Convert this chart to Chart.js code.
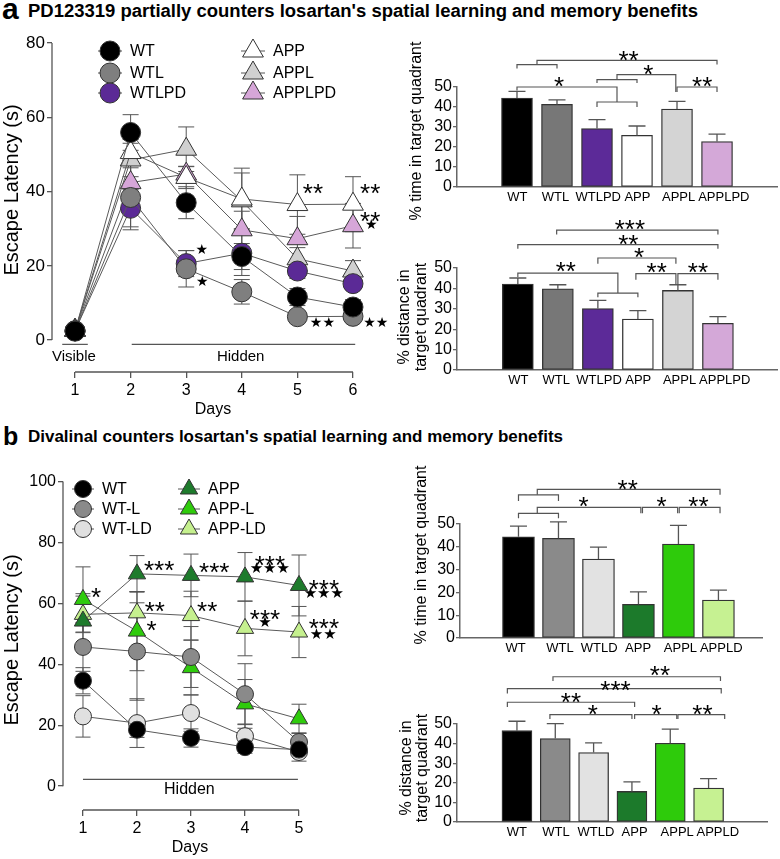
<!DOCTYPE html>
<html><head><meta charset="utf-8">
<script src="https://cdn.jsdelivr.net/npm/chart.js@4.4.1/dist/chart.umd.min.js"></script>
<style>
html,body{margin:0;padding:0;background:#fff}
body{width:780px;height:859px;position:relative;overflow:hidden;font-family:"Liberation Sans",Arial,sans-serif}
canvas{position:absolute}
.lt{position:absolute;font-weight:bold;line-height:1;color:#000}
.tt{position:absolute;font-weight:bold;line-height:1;color:#000;white-space:nowrap;display:inline-block;transform-origin:0 0}
</style></head><body>
<div class="lt" style="left:2px;top:-6px;font-size:30px">a</div>
<div class="tt" data-w="670" style="left:28px;top:2px;font-size:18px">PD123319 partially counters losartan's spatial learning and memory benefits</div>
<div class="lt" style="left:3px;top:424px;font-size:25px">b</div>
<div class="tt" data-w="535" style="left:28px;top:429px;font-size:16px">Divalinal counters losartan's spatial learning and memory benefits</div>
<script>
// ---------------- DATA ----------------
const daysA = [1, 2, 3, 4, 5, 6];
const groupsA = ['WT', 'WTL', 'WTLPD', 'APP', 'APPL', 'APPLPD'];
const latA_WT = [2.4, 55.9, 37.0, 22.5, 11.6, 8.9];
const latA_WT_err = [0.8, 4.8, 4.3, 3.5, 2.3, 2.0];
const latA_WTL = [2.5, 38.4, 19.2, 13.0, 6.3, 6.4];
const latA_WTL_err = [0.8, 8.7, 4.9, 3.3, 1.2, 1.3];
const latA_WTLPD = [2.5, 35.5, 20.6, 23.4, 18.6, 15.2];
const latA_WTLPD_err = [0.8, 5.0, 3.5, 6.0, 2.0, 1.5];
const latA_APP = [2.6, 50.5, 43.8, 38.0, 36.5, 36.6];
const latA_APP_err = [0.8, 3.5, 3.0, 8.3, 8.0, 7.4];
const latA_APPL = [2.6, 48.5, 51.4, 37.5, 21.9, 18.6];
const latA_APPL_err = [0.8, 4.5, 6.0, 7.5, 3.0, 2.8];
const latA_APPLPD = [2.7, 42.4, 44.7, 29.7, 27.3, 30.8];
const latA_APPLPD_err = [0.8, 4.0, 2.0, 5.0, 6.0, 6.0];
const yTicksA = [0, 20, 40, 60, 80];

const timeA = [44.5, 41.3, 29.2, 25.8, 39.0, 22.7];
const timeA_err = [3.3, 2.3, 4.5, 4.7, 3.8, 3.7];
const distA = [42.1, 39.8, 30.1, 25.0, 39.0, 22.9];
const distA_err = [3.0, 2.0, 4.0, 4.1, 2.8, 3.3];

const daysB = [1, 2, 3, 4, 5];
const groupsB = ['WT', 'WTL', 'WTLD', 'APP', 'APPL', 'APPLD'];
const legendB = ['WT', 'WT-L', 'WT-LD', 'APP', 'APP-L', 'APP-LD'];
const latB_WT = [34.6, 18.5, 15.8, 12.8, 12.0];
const latB_WT_err = [4.3, 2.5, 3.0, 2.0, 2.0];
const latB_WTL = [45.7, 44.2, 42.4, 30.2, 14.5];
const latB_WTL_err = [8.0, 16.0, 10.0, 10.0, 3.0];
const latB_WTLD = [22.9, 20.7, 24.0, 16.4, 11.2];
const latB_WTLD_err = [6.8, 8.0, 6.0, 4.0, 3.0];
const latB_APP = [54.2, 69.7, 69.2, 68.7, 65.9];
const latB_APP_err = [9.0, 6.0, 7.0, 8.0, 10.0];
const latB_APPL = [61.3, 50.9, 38.9, 27.0, 22.1];
const latB_APPL_err = [10.7, 13.0, 9.0, 8.0, 4.8];
const latB_APPLD = [56.4, 56.9, 56.0, 51.8, 50.6];
const latB_APPLD_err = [6.0, 7.0, 8.0, 9.0, 8.4];
const yTicksB = [0, 20, 40, 60, 80, 100];

const timeB = [44.4, 43.7, 34.6, 14.8, 41.2, 16.6];
const timeB_err = [4.7, 7.2, 5.3, 5.4, 8.2, 4.4];
const distB = [46.6, 42.6, 35.4, 15.6, 40.2, 17.3];
const distB_err = [4.8, 7.6, 5.0, 4.9, 7.2, 4.8];

// ---------------- STYLE ----------------
const FONT = '"Liberation Sans", Arial, sans-serif';
Chart.defaults.font.family = FONT;
Chart.defaults.color = '#000';
Chart.defaults.animation = false;
const colA = ['#000000', '#7f7f7f', '#5b2a96', '#ffffff', '#d0d0d0', '#d6a6d8'];
const barColA = ['#000000', '#777777', '#5c2a98', '#ffffff', '#d4d4d4', '#d4a8d8'];
const colB = ['#000000', '#8a8a8a', '#e0e0e0', '#1e7b2c', '#2fcb0c', '#c5f08e'];
const barColB = ['#000000', '#8a8a8a', '#e2e2e2', '#1c7a2b', '#2ecb0b', '#c6f192'];

// ---------------- PLUGIN ----------------
const ANN = {};
function drawMarker(ctx, style, x, y, r, fill, stroke) {
  ctx.beginPath();
  if (style === 'triangle') {
    let a = 0;
    for (let k = 0; k < 3; k++) {
      const px = x + Math.sin(a) * r, py = y - Math.cos(a) * r;
      if (k) ctx.lineTo(px, py); else ctx.moveTo(px, py);
      a += 2 * Math.PI / 3;
    }
    ctx.closePath();
  } else ctx.arc(x, y, r, 0, Math.PI * 2);
  ctx.fillStyle = fill; ctx.fill();
  ctx.strokeStyle = stroke; ctx.lineWidth = 1; ctx.stroke();
}
function drawErr(chart, a) {
  const ctx = chart.ctx, ys = chart.scales.y;
  ctx.save(); ctx.strokeStyle = a.errColor; ctx.lineWidth = a.errWidth;
  chart.data.datasets.forEach((ds, di) => {
    if (!ds.err) return;
    const meta = chart.getDatasetMeta(di);
    meta.data.forEach((el, i) => {
      const v = ds.data[i].y, e = ds.err[i], x = el.x;
      const t = ys.getPixelForValue(v + e);
      const b = ys.getPixelForValue(a.errMode === 'both' ? v - e : v);
      ctx.beginPath(); ctx.moveTo(x, t); ctx.lineTo(x, b);
      ctx.moveTo(x - a.cap, t); ctx.lineTo(x + a.cap, t);
      if (a.errMode === 'both') { ctx.moveTo(x - a.cap, b); ctx.lineTo(x + a.cap, b); }
      ctx.stroke();
    });
  });
  ctx.restore();
}
const extras = {
  id: 'extras',
  beforeDatasetsDraw(chart) { const a = ANN[chart.canvas.id]; if (a && a.errMode === 'both') drawErr(chart, a); },
  afterDatasetsDraw(chart) { const a = ANN[chart.canvas.id]; if (a && a.errMode === 'up') drawErr(chart, a); },
  afterDraw(chart) {
    const a = ANN[chart.canvas.id]; if (!a) return;
    const ctx = chart.ctx, xs = chart.scales.x, ys = chart.scales.y, ca = chart.chartArea;
    const X = v => xs.getPixelForValue(v), Y = v => ys.getPixelForValue(v);
    ctx.save();
    ctx.strokeStyle = '#555'; ctx.lineWidth = 1.3;
    if (a.yAxis) { ctx.beginPath(); ctx.moveTo(ca.left, Y(a.yAxis[0])); ctx.lineTo(ca.left, Y(a.yAxis[1])); ctx.stroke(); }
    if (a.xAxis) { ctx.beginPath(); ctx.moveTo(X(a.xAxis[0]), ca.bottom); ctx.lineTo(X(a.xAxis[1]), ca.bottom); ctx.stroke(); }
    ctx.strokeStyle = '#555'; ctx.lineWidth = 1.2;
    (a.paths || []).forEach(p => {
      ctx.beginPath();
      p.forEach((q, k) => { if (k) ctx.lineTo(X(q[0]), Y(q[1])); else ctx.moveTo(X(q[0]), Y(q[1])); });
      ctx.stroke();
    });
    ctx.fillStyle = '#000'; ctx.textAlign = 'center';
    (a.texts || []).forEach(t => {
      const f = a.fonts[t.k];
      ctx.font = f.font; ctx.textBaseline = f.base; ctx.fillStyle = f.color || '#000';
      ctx.fillText(t.t, X(t.x), Y(t.y) + f.dy);
    });
    if (a.legend) {
      const L = a.legend;
      L.items.forEach(it => {
        const ds = chart.data.datasets[it.ds];
        const lx = it.x - a.box.l, ly = it.y - a.box.t;
        ctx.strokeStyle = '#555'; ctx.lineWidth = 1;
        ctx.beginPath(); ctx.moveTo(lx - L.seg, ly); ctx.lineTo(lx + L.seg, ly); ctx.stroke();
        drawMarker(ctx, ds.pointStyle, lx, ly, ds.pointRadius, ds.pointBackgroundColor, '#333');
        ctx.fillStyle = '#000'; ctx.font = L.font; ctx.textAlign = 'left'; ctx.textBaseline = 'middle';
        ctx.fillText(ds.label, lx + L.gap, ly + 1);
      });
    }
    (a.ptexts || []).forEach(t => {
      ctx.save(); ctx.translate(t.x - a.box.l, t.y - a.box.t); if (t.rot) ctx.rotate(t.rot);
      ctx.font = t.font; ctx.fillStyle = '#000'; ctx.textAlign = 'center'; ctx.textBaseline = 'middle';
      ctx.fillText(t.t, 0, 0); ctx.restore();
    });
    ctx.restore();
  }
};
Chart.register(extras);

function mk(id, box, plot, config, ann) {
  const c = document.createElement('canvas');
  c.id = id; c.width = box.w; c.height = box.h;
  c.style.left = box.l + 'px'; c.style.top = box.t + 'px';
  c.style.width = box.w + 'px'; c.style.height = box.h + 'px';
  document.body.appendChild(c);
  ann.box = box;
  ANN[id] = ann;
  const o = config.options;
  o.responsive = false; o.animation = false; o.devicePixelRatio = 1;
  o.layout = { padding: { top: plot.t - box.t, right: box.l + box.w - plot.r, left: 0, bottom: 0 } };
  o.scales.y.afterFit = s => { s.width = plot.l - box.l; };
  o.scales.x.afterFit = s => { s.height = box.t + box.h - plot.b; };
  o.plugins = { legend: { display: false }, tooltip: { enabled: false } };
  return new Chart(c, config);
}

function lineDS(label, days, vals, errs, color, style, r) {
  return {
    label, data: days.map((d, i) => ({ x: d, y: vals[i] })), err: errs,
    borderColor: '#5a5a5a', borderWidth: 1, backgroundColor: color,
    pointStyle: style, pointRadius: r, pointBackgroundColor: color,
    pointBorderColor: '#333', pointBorderWidth: 1, tension: 0, clip: false
  };
}
function lineOpts(days, xmin, xmax, ymin, ymax, yticks, yfs) {
  return {
    scales: {
      x: { type: 'linear', min: xmin, max: xmax,
        afterBuildTicks: s => { s.ticks = days.map(v => ({ value: v })); },
        ticks: { font: { size: 16 }, padding: 3, color: '#000', autoSkip: false },
        grid: { display: true, drawOnChartArea: false, tickLength: 6, color: '#555', lineWidth: 1.3 },
        border: { display: false } },
      y: { type: 'linear', min: ymin, max: ymax,
        afterBuildTicks: s => { s.ticks = yticks.map(v => ({ value: v })); },
        ticks: { font: { size: yfs }, padding: 2, color: '#000', autoSkip: false },
        grid: { display: true, drawOnChartArea: false, tickLength: 5, color: '#555', lineWidth: 1.3 },
        border: { display: false } }
    }
  };
}
// labelAt: where each category label is centred along the index axis
function barCfg(cats, labelAt, vals, errs, colors, thick, xmin, xmax) {
  return {
    type: 'bar',
    data: { datasets: [{ data: cats.map((c, i) => ({ x: i, y: vals[i] })), err: errs,
      backgroundColor: colors, borderColor: '#333', borderWidth: 1.3, barThickness: thick, borderSkipped: false }] },
    options: {
      scales: {
        x: { type: 'linear', min: xmin, max: xmax,
          afterBuildTicks: s => { s.ticks = labelAt.map(v => ({ value: v })); },
          ticks: { font: { size: 13 }, padding: 3, color: '#000', autoSkip: false, maxRotation: 0, minRotation: 0, callback: (v, i) => cats[i] },
          grid: { display: false, drawTicks: false }, border: { display: true, color: '#666', width: 1.5 } },
        y: { type: 'linear', min: 0, max: 50,
          afterBuildTicks: s => { s.ticks = [0, 10, 20, 30, 40, 50].map(v => ({ value: v })); },
          ticks: { font: { size: 16 }, padding: 1, color: '#000', autoSkip: false },
          grid: { display: true, drawOnChartArea: false, tickLength: 4, color: '#666', lineWidth: 1.3 },
          border: { display: true, color: '#666', width: 1.5 } }
      }
    }
  };
}
const AST = { font: '26px ' + FONT, base: 'alphabetic', dy: 15 };
const barFonts = { a: AST };

// ---------------- PANEL a : line ----------------
mk('la', { l: 0, t: 30, w: 390, h: 390 }, { l: 52, t: 42, r: 375, b: 372 }, {
  type: 'line',
  data: { datasets: [
    lineDS('WT', daysA, latA_WT, latA_WT_err, colA[0], 'circle', 10),
    lineDS('WTL', daysA, latA_WTL, latA_WTL_err, colA[1], 'circle', 10),
    lineDS('WTLPD', daysA, latA_WTLPD, latA_WTLPD_err, colA[2], 'circle', 10),
    lineDS('APP', daysA, latA_APP, latA_APP_err, colA[3], 'triangle', 12),
    lineDS('APPL', daysA, latA_APPL, latA_APPL_err, colA[4], 'triangle', 12),
    lineDS('APPLPD', daysA, latA_APPLPD, latA_APPLPD_err, colA[5], 'triangle', 12)
  ] },
  options: lineOpts(daysA, 0.586, 6.396, -8.59, 80, yTicksA, 17)
}, {
  errMode: 'both', errColor: '#555', errWidth: 1, cap: 8,
  yAxis: [0, 80], xAxis: [1, 6],
  fonts: { a: AST, s: { font: '14px "DejaVu Sans"', base: 'middle', dy: 0 }, l: { font: '15px ' + FONT, base: 'middle', dy: 0 } },
  paths: [[[0.77, -1.15], [1.23, -1.15]], [[2.02, -1.15], [6.04, -1.15]]],
  texts: [
    { x: 5.28, y: 41.1, t: '**', k: 'a' }, { x: 6.31, y: 41.3, t: '**', k: 'a' }, { x: 6.31, y: 33.7, t: '**', k: 'a' },
    { x: 6.33, y: 31.0, t: '★', k: 's' }, { x: 3.28, y: 24.1, t: '★', k: 's' }, { x: 3.29, y: 15.6, t: '★', k: 's' },
    { x: 5.45, y: 4.6, t: '★★', k: 's' }, { x: 6.41, y: 4.6, t: '★★', k: 's' },
    { x: 0.98, y: -4.6, t: 'Visible', k: 'l' }, { x: 3.98, y: -4.6, t: 'Hidden', k: 'l' }
  ],
  legend: { seg: 12, gap: 20, font: '16px ' + FONT, items: [
    { ds: 0, x: 110, y: 51 }, { ds: 1, x: 110, y: 73 }, { ds: 2, x: 110, y: 93 },
    { ds: 3, x: 253, y: 51 }, { ds: 4, x: 253, y: 73 }, { ds: 5, x: 253, y: 93 }] },
  ptexts: [
    { t: 'Escape Latency (s)', x: 12, y: 190, rot: -Math.PI / 2, font: '20px ' + FONT },
    { t: 'Days', x: 213, y: 410, font: '16px ' + FONT }
  ]
});

// ---------------- PANEL a : bars ----------------
mk('ba1', { l: 390, t: 25, w: 390, h: 200 }, { l: 457, t: 87, r: 777, b: 187 },
  barCfg(groupsA, [0.01, 0.96, 2.03, 3.01, 4.04, 5.17], timeA, timeA_err, barColA, 31, -0.833, 5.833), {
  errMode: 'up', errColor: '#555', errWidth: 1.3, cap: 8.5, fonts: barFonts,
  paths: [
    [[0, 59.2], [0, 61.2], [1, 61.2], [1, 59.2]],
    [[0.5, 61.2], [0.5, 63.3], [5, 63.3], [5, 61.2]],
    [[0, 48.3], [0, 50], [2.5, 50], [2.5, 42.5]],
    [[2, 40], [2, 42.5], [3, 42.5], [3, 40]],
    [[2, 52], [2, 53.7], [3, 53.7], [3, 52]],
    [[2.5, 53.7], [2.5, 56.2], [3.97, 56.2], [3.97, 47.5]],
    [[4, 47.5], [4, 50], [5, 50], [5, 47.5]]
  ],
  texts: [{ x: 2.79, y: 66.5, t: '**', k: 'a' }, { x: 1.05, y: 53.5, t: '*', k: 'a' },
    { x: 3.28, y: 59.5, t: '*', k: 'a' }, { x: 4.63, y: 53.5, t: '**', k: 'a' }],
  ptexts: [{ t: '% time in target quadrant', x: 417, y: 131, rot: -Math.PI / 2, font: '16px ' + FONT }]
});
mk('ba2', { l: 390, t: 205, w: 390, h: 200 }, { l: 457, t: 268, r: 777, b: 370 },
  barCfg(groupsA, [0.01, 0.96, 2.03, 3.01, 4.04, 5.17], distA, distA_err, barColA, 31, -0.854, 5.81), {
  errMode: 'up', errColor: '#555', errWidth: 1.3, cap: 8.5, fonts: barFonts,
  paths: [
    [[0.97, 66.4], [0.97, 68.6], [5, 68.6], [5, 66.4]],
    [[0, 59.4], [0, 61.5], [5, 61.5], [5, 59.4]],
    [[2, 52.1], [2, 54.9], [3.95, 54.9], [3.95, 52.1]],
    [[0, 45.6], [0, 47.5], [2.5, 47.5], [2.5, 37.7]],
    [[2, 35.7], [2, 37.7], [3, 37.7], [3, 35.7]],
    [[2.95, 44.2], [2.95, 47.2], [3.95, 47.2], [3.95, 41.8]],
    [[4, 41.8], [4, 47.2], [5, 47.2], [5, 44.2]]
  ],
  texts: [{ x: 2.8, y: 72.2, t: '***', k: 'a' }, { x: 2.76, y: 64.8, t: '**', k: 'a' }, { x: 3.03, y: 58.2, t: '*', k: 'a' },
    { x: 1.2, y: 51.6, t: '**', k: 'a' }, { x: 3.47, y: 51.2, t: '**', k: 'a' }, { x: 4.5, y: 51.2, t: '**', k: 'a' }],
  ptexts: [{ t: '% distance in', x: 405, y: 317, rot: -Math.PI / 2, font: '16px ' + FONT },
    { t: 'target quadrant', x: 422, y: 317, rot: -Math.PI / 2, font: '16px ' + FONT }]
});

// ---------------- PANEL b : line ----------------
mk('lb', { l: 0, t: 470, w: 390, h: 389 }, { l: 63, t: 480, r: 330, b: 810 }, {
  type: 'line',
  data: { datasets: [
    lineDS(legendB[0], daysB, latB_WT, latB_WT_err, colB[0], 'circle', 8.5),
    lineDS(legendB[1], daysB, latB_WTL, latB_WTL_err, colB[1], 'circle', 8.5),
    lineDS(legendB[2], daysB, latB_WTLD, latB_WTLD_err, colB[2], 'circle', 8.5),
    lineDS(legendB[3], daysB, latB_APP, latB_APP_err, colB[3], 'triangle', 10),
    lineDS(legendB[4], daysB, latB_APPL, latB_APPL_err, colB[4], 'triangle', 10),
    lineDS(legendB[5], daysB, latB_APPLD, latB_APPLD_err, colB[5], 'triangle', 10)
  ] },
  options: lineOpts(daysB, 0.63, 5.574, -7.84, 100, yTicksB, 16)
}, {
  errMode: 'both', errColor: '#555', errWidth: 1, cap: 7.5,
  yAxis: [0, 100], xAxis: [1, 5],
  fonts: { a: AST, s: { font: '15px "DejaVu Sans"', base: 'middle', dy: 0 }, l: { font: '16px ' + FONT, base: 'middle', dy: 0 } },
  paths: [[[1, 2.2], [4.98, 2.2]]],
  texts: [
    { x: 1.24, y: 64, t: '*', k: 'a' }, { x: 2.41, y: 73, t: '***', k: 'a' }, { x: 2.27, y: 53.2, t: '*', k: 'a' },
    { x: 2.33, y: 59.5, t: '**', k: 'a' }, { x: 3.43, y: 72.4, t: '***', k: 'a' }, { x: 3.3, y: 59.5, t: '**', k: 'a' },
    { x: 4.46, y: 74.7, t: '***', k: 'a' }, { x: 4.46, y: 71.3, t: '★★★', k: 's' },
    { x: 4.37, y: 57.0, t: '***', k: 'a' }, { x: 4.37, y: 53.4, t: '★', k: 's' },
    { x: 5.46, y: 66.8, t: '***', k: 'a' }, { x: 5.46, y: 63.0, t: '★★★', k: 's' },
    { x: 5.46, y: 54.0, t: '***', k: 'a' }, { x: 5.45, y: 49.7, t: '★★', k: 's' },
    { x: 2.97, y: -1.3, t: 'Hidden', k: 'l' }
  ],
  legend: { seg: 11, gap: 19, font: '16px ' + FONT, items: [
    { ds: 0, x: 83, y: 489 }, { ds: 1, x: 83, y: 509 }, { ds: 2, x: 83, y: 529 },
    { ds: 3, x: 189, y: 489 }, { ds: 4, x: 189, y: 509 }, { ds: 5, x: 189, y: 529 }] },
  ptexts: [
    { t: 'Escape Latency (s)', x: 12, y: 640, rot: -Math.PI / 2, font: '20px ' + FONT },
    { t: 'Days', x: 190, y: 848, font: '16px ' + FONT }
  ]
});

// ---------------- PANEL b : bars ----------------
mk('bb1', { l: 390, t: 455, w: 390, h: 205 }, { l: 460, t: 524, r: 762, b: 638 },
  barCfg(groupsB, [-0.07, 1.04, 2.02, 2.99, 4.05, 5.07], timeB, timeB_err, barColB, 32, -0.833, 5.46), {
  errMode: 'up', errColor: '#555', errWidth: 1.3, cap: 8.5, fonts: barFonts,
  paths: [
    [[0, 60.1], [0, 62.8], [1, 62.8], [1, 60.1]],
    [[0.47, 62.8], [0.47, 65.2], [5.04, 65.2], [5.04, 62.8]],
    [[0, 52.5], [0, 54.7], [1, 54.7], [1, 52.5]],
    [[0.47, 54.7], [0.47, 57.3], [3.06, 57.3], [3.06, 54.7]],
    [[3.1, 54.7], [3.1, 57.3], [3.98, 57.3], [3.98, 54.7]],
    [[4.02, 54.7], [4.02, 57.3], [5.04, 57.3], [5.04, 54.7]]
  ],
  texts: [{ x: 2.73, y: 68.2, t: '**', k: 'a' }, { x: 1.63, y: 60.6, t: '*', k: 'a' },
    { x: 3.58, y: 60.6, t: '*', k: 'a' }, { x: 4.5, y: 60.6, t: '**', k: 'a' }],
  ptexts: [{ t: '% time in target quadrant', x: 422, y: 555, rot: -Math.PI / 2, font: '16px ' + FONT }]
});
mk('bb2', { l: 390, t: 655, w: 390, h: 204 }, { l: 457, t: 724, r: 767, b: 822 },
  barCfg(groupsB, [0, 1.02, 2.06, 3.07, 4.18, 5.24], distB, distB_err, barColB, 30, -0.89, 5.85), {
  errMode: 'up', errColor: '#555', errWidth: 1.3, cap: 8.5, fonts: barFonts,
  paths: [
    [[0.94, 71.9], [0.94, 74.1], [5.31, 74.1], [5.31, 71.9]],
    [[-0.25, 65.6], [-0.25, 68], [5.33, 68], [5.33, 65.6]],
    [[-0.25, 58.7], [-0.25, 61.1], [3.07, 61.1], [3.07, 58.7]],
    [[0.86, 52.6], [0.86, 54.8], [3.0, 54.8], [3.0, 52.6]],
    [[3.07, 52.6], [3.07, 54.8], [4.17, 54.8], [4.17, 52.6]],
    [[4.2, 52.6], [4.2, 54.8], [5.42, 54.8], [5.42, 52.6]]
  ],
  texts: [{ x: 3.73, y: 77.9, t: '**', k: 'a' }, { x: 2.57, y: 70.2, t: '***', k: 'a' }, { x: 1.41, y: 64.2, t: '**', k: 'a' },
    { x: 1.98, y: 58.2, t: '*', k: 'a' }, { x: 3.64, y: 58.2, t: '*', k: 'a' }, { x: 4.84, y: 58.2, t: '**', k: 'a' }],
  ptexts: [{ t: '% distance in', x: 407, y: 768, rot: -Math.PI / 2, font: '16px ' + FONT },
    { t: 'target quadrant', x: 423, y: 768, rot: -Math.PI / 2, font: '16px ' + FONT }]
});

// fit title widths
document.querySelectorAll('.tt').forEach(el => {
  const w = el.getBoundingClientRect().width;
  el.style.transform = 'scaleX(' + (+el.dataset.w / w) + ')';
});
</script>
</body></html>
